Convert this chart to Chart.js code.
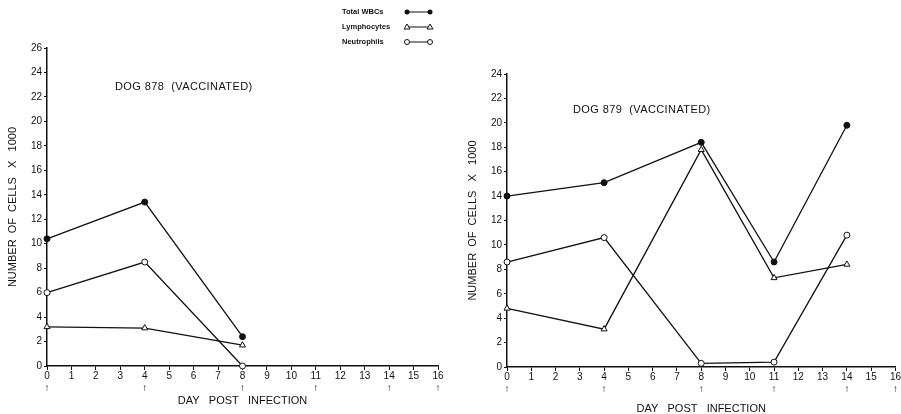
<!DOCTYPE html>
<html>
<head>
<meta charset="utf-8">
<script src="https://cdn.jsdelivr.net/npm/chart.js@4.4.0/dist/chart.umd.min.js"></script>
<style>
  body { margin: 0; background: #fff; width: 901px; height: 414px; position: relative; overflow: hidden; font-family: "Liberation Sans", Arial, sans-serif; color: #111; }
  .box { position: absolute; top: 0; height: 414px; }
  .note { position: absolute; font-size: 11px; letter-spacing: 0.4px; white-space: nowrap; }
  .legend { position: absolute; left: 342px; top: 7px; font-size: 7.5px; font-weight: bold; }
  .legend div { height: 15px; position: relative; }
  .legend svg { position: absolute; left: 62px; top: -2px; }
</style>
</head>
<body>
<div class="box" style="left:0;width:450px"><canvas id="dog878"></canvas></div>
<div class="box" style="left:450px;width:451px"><canvas id="dog879"></canvas></div>

<div class="note" style="left:115px;top:80px">DOG 878 &nbsp;(VACCINATED)</div>
<div class="note" style="left:573px;top:103px">DOG 879 &nbsp;(VACCINATED)</div>

<div class="legend">
  <div>Total WBCs<svg width="30" height="14"><line x1="3" y1="7" x2="26" y2="7" stroke="#111"/><circle cx="3" cy="7" r="2.5" fill="#111"/><circle cx="26" cy="7" r="2.5" fill="#111"/></svg></div>
  <div>Lymphocytes<svg width="30" height="14"><line x1="3" y1="7" x2="26" y2="7" stroke="#111"/><polygon points="3,4 6,9 0,9" fill="#fff" stroke="#111"/><polygon points="26,4 29,9 23,9" fill="#fff" stroke="#111"/></svg></div>
  <div>Neutrophils<svg width="30" height="14"><line x1="3" y1="7" x2="26" y2="7" stroke="#111"/><circle cx="3" cy="7" r="2.5" fill="#fff" stroke="#111"/><circle cx="26" cy="7" r="2.5" fill="#fff" stroke="#111"/></svg></div>
</div>

<script>
// values (cells x 1000)
const days878 = [0, 4, 8];
const wbc878 = [10.4, 13.4, 2.4];
const lym878 = [3.2, 3.1, 1.7];
const neu878 = [6.0, 8.5, 0];

const days879 = [0, 4, 8, 11, 14];
const wbc879 = [14.0, 15.1, 18.4, 8.6, 19.8];
const lym879 = [4.8, 3.1, 17.8, 7.3, 8.4];
const neu879 = [8.6, 10.6, 0.3, 0.4, 10.8];

// days with an arrow under the axis
const arrowDays = [0, 4, 8, 11, 14, 16];

const ink = '#111';
const tickFont = { family: '"Liberation Sans", Arial, sans-serif', size: 10 };

function pts(days, vals) {
  return days.map((d, i) => ({ x: d, y: vals[i] }));
}

function series(label, days, vals, style, fill) {
  return {
    label: label,
    data: pts(days, vals),
    borderColor: ink,
    borderWidth: 1.3,
    pointStyle: style,
    pointRadius: style === 'triangle' ? 3.5 : 3,
    pointBackgroundColor: fill,
    pointBorderColor: ink,
    pointBorderWidth: 1,
    tension: 0,
    clip: false
  };
}

function makeChart(id, days, wbc, lym, neu, yMax, opt) {
  return new Chart(document.getElementById(id), {
    type: 'line',
    data: {
      datasets: [
        series('Total WBCs', days, wbc, 'circle', ink),
        series('Lymphocytes', days, lym, 'triangle', '#fff'),
        series('Neutrophils', days, neu, 'circle', '#fff')
      ]
    },
    options: {
      responsive: true,
      maintainAspectRatio: false,
      animation: false,
      layout: { padding: { top: opt.top, right: opt.right, left: 0, bottom: 0 } },
      plugins: { legend: { display: false }, tooltip: { enabled: false } },
      scales: {
        x: {
          type: 'linear',
          min: 0, max: 16,
          afterFit: s => { s.height = opt.xh; },
          grid: { drawOnChartArea: false, color: ink, tickLength: 4 },
          border: { color: ink, width: 1.5 },
          ticks: {
            stepSize: 1, color: ink, font: tickFont, padding: 0, maxRotation: 0,
            callback: v => [String(v), arrowDays.includes(v) ? '↑' : '']
          },
          title: {
            display: true, text: 'DAY   POST   INFECTION', color: ink,
            font: { family: tickFont.family, size: 11 }, padding: { top: 0, bottom: opt.xtb }
          }
        },
        y: {
          min: 0, max: yMax,
          afterFit: s => { s.width = opt.yw; },
          grid: { drawOnChartArea: false, color: ink, tickLength: 3 },
          border: { color: ink, width: 1.5 },
          ticks: { stepSize: 2, color: ink, font: tickFont, padding: 2 },
          title: {
            display: true, text: 'NUMBER  OF  CELLS   X   1000', color: ink,
            font: { family: tickFont.family, size: 11 }, padding: { top: opt.ytt, bottom: 0 }
          }
        }
      }
    }
  });
}

makeChart('dog878', days878, wbc878, lym878, neu878, 26,
  { top: 48, right: 12, xh: 48, yw: 47, xtb: 6, ytt: 6 });
makeChart('dog879', days879, wbc879, lym879, neu879, 24,
  { top: 74, right: 4, xh: 47, yw: 57, xtb: -2, ytt: 16 });
</script>
</body>
</html>
